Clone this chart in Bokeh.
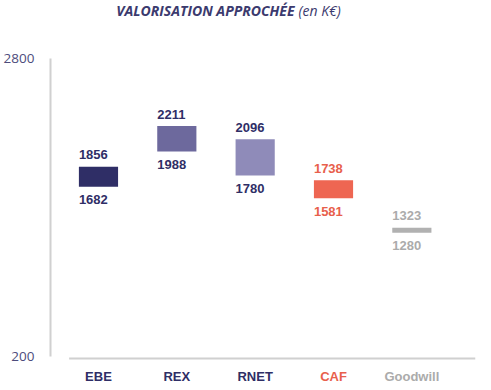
from bokeh.plotting import figure
from bokeh.models import ColumnDataSource, LabelSet, Label, FixedTicker, Range1d
from bokeh.core.properties import value
from bokeh.embed import file_html
from bokeh.resources import INLINE

categories = ["EBE", "REX", "RNET", "CAF", "Goodwill"]
low_values = [1682, 1988, 1780, 1581, 1280]
high_values = [1856, 2211, 2096, 1738, 1323]
bar_colors = ["#2f2e66", "#6d699d", "#8f8bb9", "#ee6652", "#b1b1b1"]
text_colors = ["#2f2e66", "#2f2e66", "#2f2e66", "#e8604c", "#ababab"]
y_ticks = [200, 2800]

Y_START, Y_END = -53, 3306
positions = list(range(len(categories)))
src = ColumnDataSource(dict(
    x=positions,
    xl=[p - 0.25 for p in positions],
    low=low_values,
    high=high_values,
    low_txt=[str(v) for v in low_values],
    high_txt=[str(v) for v in high_values],
    cat=categories,
    bar_color=bar_colors,
    txt_color=text_colors,
    base=[y_ticks[0]] * len(categories),
))

p = figure(width=480, height=385, output_backend="svg", toolbar_location=None,
           x_range=Range1d(-0.6125, 4.8125), y_range=Range1d(Y_START, Y_END),
           min_border_left=41, min_border_right=5, min_border_top=0, min_border_bottom=0)
p.outline_line_color = None
p.grid.grid_line_color = None
p.background_fill_color = "white"
p.xaxis.visible = False

p.vbar(x="x", width=0.5, bottom="low", top="high", fill_color="bar_color",
       line_color=None, source=src)

# x axis baseline
p.segment(x0=[-0.375], x1=[4.8125], y0=[y_ticks[0] - 17], y1=[y_ticks[0] - 17],
          line_color="#d0d0d0", line_width=2)

font = value("Liberation Sans")
p.add_layout(LabelSet(x="xl", y="high", text="high_txt", source=src, text_align="left",
                      text_baseline="middle", y_offset=12, text_font=font,
                      text_font_size="13px", text_font_style="bold", text_color="txt_color"))
p.add_layout(LabelSet(x="xl", y="low", text="low_txt", source=src, text_align="left",
                      text_baseline="middle", y_offset=-13, text_font=font,
                      text_font_size="13px", text_font_style="bold", text_color="txt_color"))
p.add_layout(LabelSet(x="x", y="base", text="cat", source=src, text_align="center",
                      text_baseline="middle", y_offset=-20, text_font=font,
                      text_font_size="13px", text_font_style="bold", text_color="txt_color"))

# y axis
p.yaxis.ticker = FixedTicker(ticks=y_ticks)
p.yaxis.bounds = (y_ticks[0], y_ticks[1])
p.yaxis.axis_line_color = "#d0d0d0"
p.yaxis.axis_line_width = 2
p.yaxis.major_tick_line_color = None
p.yaxis.minor_tick_line_color = None
p.yaxis.major_label_text_font = "Open Sans"
p.yaxis.major_label_text_font_size = "13.5px"
p.yaxis.major_label_text_color = "#4d4c7c"
p.yaxis.major_label_standoff = 10

# title (two styles)
p.add_layout(Label(x=244, x_units="screen", y=Y_END, y_offset=-10, text="VALORISATION APPROCHÉE",
                   text_align="right", text_baseline="middle", text_font="Open Sans",
                   text_font_size="14px", text_font_style="bold italic", text_color="#3b3a6e"))
p.add_layout(Label(x=248, x_units="screen", y=Y_END, y_offset=-10, text="(en K€)",
                   text_align="left", text_baseline="middle", text_font="Open Sans",
                   text_font_size="14px", text_font_style="italic", text_color="#3b3a6e"))

open("out.html", "w").write(file_html(p, INLINE))
